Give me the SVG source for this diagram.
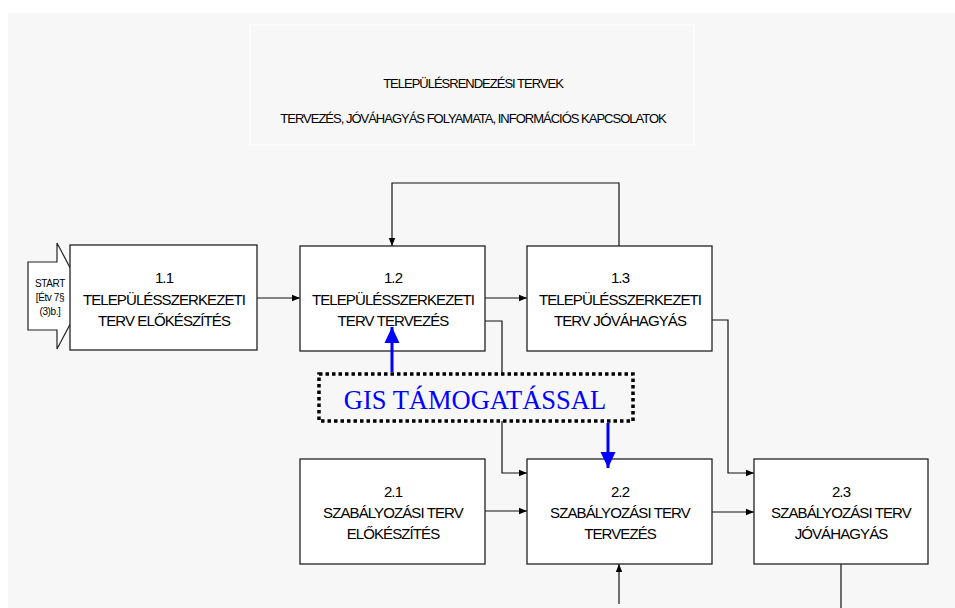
<svg xmlns="http://www.w3.org/2000/svg" width="955" height="608" viewBox="0 0 955 608">
<defs>
<marker id="ah" viewBox="0 0 8 8" refX="8" refY="4" markerWidth="8" markerHeight="8" markerUnits="userSpaceOnUse" orient="auto">
<path d="M0,0.8 L8,4 L0,7.2 Z" fill="#000"/>
</marker>
<marker id="bh" viewBox="0 0 16 16" refX="16" refY="8" markerWidth="16" markerHeight="16" markerUnits="userSpaceOnUse" orient="auto">
<path d="M0,0.5 L16,8 L0,15.5 Z" fill="#0000ff"/>
</marker>
<style>
.box{fill:#fff;stroke:#222;stroke-width:1.3}
.t{font-family:"Liberation Sans",Arial,sans-serif;font-size:15px;letter-spacing:-0.9px;fill:#000;text-anchor:middle}
.st{font-family:"Liberation Sans",Arial,sans-serif;font-size:10px;letter-spacing:-0.4px;fill:#000;text-anchor:middle}
.tt{font-family:"Liberation Sans",Arial,sans-serif;font-size:13px;letter-spacing:-1px;fill:#000;text-anchor:middle}
.c{fill:none;stroke:#111;stroke-width:1.2}
.b{fill:none;stroke:#0000ff;stroke-width:3}
</style>
</defs>
<rect x="0" y="0" width="955" height="608" fill="#fff"/>
<rect x="8" y="13" width="947" height="595" fill="#f7f7f7"/>
<g id="title">
<rect x="250" y="25" width="444" height="120" fill="#f7f7f7" stroke="#fdfdfd" stroke-width="1.5"/>
<text class="tt" x="473" y="88">TELEPÜLÉSRENDEZÉSI TERVEK</text>
<text class="tt" x="473" y="123">TERVEZÉS, JÓVÁHAGYÁS FOLYAMATA, INFORMÁCIÓS KAPCSOLATOK</text>
</g>
<g id="connectors">
<path class="c" d="M257,298 H300" marker-end="url(#ah)"/>
<path class="c" d="M485,298 H527" marker-end="url(#ah)"/>
<path class="c" d="M619,246 V183 H392 V246" marker-end="url(#ah)"/>
<path class="c" d="M485,321 H502 V473 H527" marker-end="url(#ah)"/>
<path class="c" d="M485,511 H527" marker-end="url(#ah)"/>
<path class="c" d="M712,320 H728 V473 H754" marker-end="url(#ah)"/>
<path class="c" d="M712,512 H754" marker-end="url(#ah)"/>
<path class="c" d="M841,564 V608"/>
<path class="c" d="M619,604 V564" marker-end="url(#ah)"/>
</g>
<g id="start">
<path d="M28,262 H57 V243 L85,296 L57,349 V330 H28 Z" fill="#fff" stroke="#222" stroke-width="1.2"/>
<text class="st" x="50" y="287">START</text>
<text class="st" x="50" y="301">[Étv 7§</text>
<text class="st" x="50" y="315">(3)b.]</text>
</g>
<g id="n11">
<rect class="box" x="70" y="245" width="187" height="105"/>
<text class="t" x="164" y="283">1.1</text>
<text class="t" x="164" y="305">TELEPÜLÉSSZERKEZETI</text>
<text class="t" x="164" y="326">TERV ELŐKÉSZÍTÉS</text>
</g>
<g id="n12">
<rect class="box" x="300" y="246" width="185" height="105"/>
<text class="t" x="393" y="283">1.2</text>
<text class="t" x="393" y="305">TELEPÜLÉSSZERKEZETI</text>
<text class="t" x="393" y="326">TERV TERVEZÉS</text>
</g>
<g id="n13">
<rect class="box" x="527" y="246" width="185" height="105"/>
<text class="t" x="620" y="283">1.3</text>
<text class="t" x="620" y="305">TELEPÜLÉSSZERKEZETI</text>
<text class="t" x="620" y="326">TERV JÓVÁHAGYÁS</text>
</g>
<g id="n21">
<rect class="box" x="300" y="459" width="185" height="105"/>
<text class="t" x="393" y="497">2.1</text>
<text class="t" x="393" y="518">SZABÁLYOZÁSI TERV</text>
<text class="t" x="393" y="539">ELŐKÉSZÍTÉS</text>
</g>
<g id="n22">
<rect class="box" x="527" y="459" width="185" height="105"/>
<text class="t" x="620" y="497">2.2</text>
<text class="t" x="620" y="518">SZABÁLYOZÁSI TERV</text>
<text class="t" x="620" y="539">TERVEZÉS</text>
</g>
<g id="n23">
<rect class="box" x="754" y="459" width="174" height="105"/>
<text class="t" x="841" y="497">2.3</text>
<text class="t" x="841" y="518">SZABÁLYOZÁSI TERV</text>
<text class="t" x="841" y="539">JÓVÁHAGYÁS</text>
</g>
<g id="gis">
<rect x="319" y="374" width="314" height="47" fill="#f7f7f7" stroke="#000" stroke-width="3.5" stroke-dasharray="3.5 3"/>
<text x="475" y="409" font-family="'Liberation Serif','Times New Roman',serif" font-size="26.5" fill="#0000ff" text-anchor="middle">GIS TÁMOGATÁSSAL</text>
</g>
<g id="gis-links">
<path class="b" d="M392,372 V327" marker-end="url(#bh)"/>
<path class="b" d="M608,423 V468" marker-end="url(#bh)"/>
</g>
</svg>
